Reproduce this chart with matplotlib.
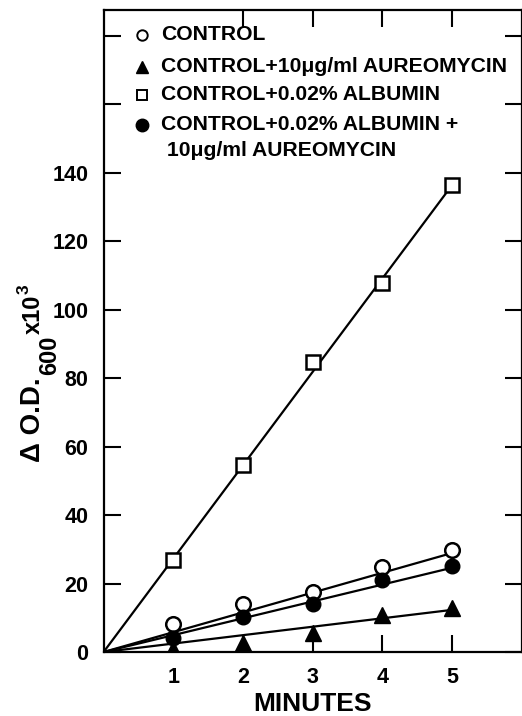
import matplotlib
matplotlib.use("Agg")
import matplotlib.pyplot as plt
from matplotlib.lines import Line2D

plt.rcParams['font.family'] = ['Liberation Sans', 'DejaVu Sans']
plt.rcParams['font.weight'] = 'bold'

# ---- data ----
minutes = [1, 2, 3, 4, 5]
control = [8.2, 14.0, 17.5, 24.8, 29.8]
control_aureo = [1.0, 2.7, 5.5, 10.8, 12.8]
control_albumin = [26.9, 54.6, 84.8, 107.9, 136.3]
control_albumin_aureo = [4.1, 10.2, 14.0, 21.0, 25.1]

fit_x = [0, 5]
fit_control = [0, 28.9]
fit_control_aureo = [0, 12.3]
fit_control_albumin = [0, 136.3]
fit_control_albumin_aureo = [0, 24.6]

xticks = [1, 2, 3, 4, 5]
yticks = [0, 20, 40, 60, 80, 100, 120, 140, 160, 180]
ytick_labels = ['0', '20', '40', '60', '80', '100', '120', '140', '', '']

legend_labels = ['CONTROL',
                 'CONTROL+10\u03bcg/ml AUREOMYCIN',
                 'CONTROL+0.02% ALBUMIN',
                 'CONTROL+0.02% ALBUMIN +\n 10\u03bcg/ml AUREOMYCIN']

# y-axis title pieces: main, subscript, superscript, exponent
ylabel_parts = ['\u0394 O.D.', '600', 'x10', '3']

W, H = 522, 716
fig = plt.figure(figsize=(W / 100, H / 100), dpi=100)
ax = fig.add_axes([103.6 / W, 1 - 652 / H, 418 / W, 642 / H])

lw = 1.6
ax.plot(fit_x, fit_control_albumin, color='black', lw=lw)
ax.plot(fit_x, fit_control, color='black', lw=lw)
ax.plot(fit_x, fit_control_albumin_aureo, color='black', lw=lw)
ax.plot(fit_x, fit_control_aureo, color='black', lw=lw)

ax.plot(minutes, control_albumin, 's', ms=9.5, mfc='white', mec='black', mew=1.8, zorder=5)
ax.plot(minutes, control, 'o', ms=10.5, mfc='white', mec='black', mew=1.8, zorder=5)
ax.plot(minutes, control_albumin_aureo, 'o', ms=10.5, mfc='black', mec='black', zorder=5)
ax.plot(minutes, control_aureo, '^', ms=11.5, mfc='black', mec='black', zorder=5)

ax.set_xlim(0, 6)
ax.set_ylim(0, 187.5)
ax.set_xticks(xticks)
ax.set_xticklabels([str(t) for t in xticks])
ax.set_yticks(yticks)
ax.set_yticklabels(ytick_labels)

ax.tick_params(direction='in', length=12, width=1.5, top=True, right=True,
               labelsize=15.5, pad=11)
# top tick at x=1 is hidden behind the key in the original
ax.xaxis.get_major_ticks()[0].tick2line.set_visible(False)
for s in ax.spines.values():
    s.set_linewidth(1.6)

ax.set_xlabel('MINUTES', fontsize=19, fontweight='bold', labelpad=3)

# y-axis title composed of pieces (rotated, read bottom to top)
renderer = fig.canvas.get_renderer()
def put_piece(txt, start_y_disp, baseline_x_px, size):
    t = fig.text(baseline_x_px / W, start_y_disp / H, txt, rotation=90,
                 rotation_mode='anchor', ha='left', va='baseline',
                 fontsize=size, fontweight='bold')
    bb = t.get_window_extent(renderer)
    return bb.y1

y0 = H - 462
y1 = put_piece(ylabel_parts[0], y0, 40, 20)
y2 = put_piece(ylabel_parts[1], y1 + 2, 56, 17)
y3 = put_piece(ylabel_parts[2], y2 + 2, 40, 17)
put_piece(ylabel_parts[3], y3 + 1, 29, 12.5)

# key drawn manually in axes coordinates
def ax_xy(px, py):
    return ((px - 103.6) / 418, (652 - py) / 642)

rows_y = [35, 67, 95, 125]
line_gap = 25
markers = [dict(marker='o', mfc='white', mec='black', mew=1.4, ms=7.5),
           dict(marker='^', mfc='black', mec='black', ms=8.5),
           dict(marker='s', mfc='white', mec='black', mew=1.4, ms=7),
           dict(marker='o', mfc='black', mec='black', ms=9)]
for lab, ry, mk in zip(legend_labels, rows_y, markers):
    mx, my = ax_xy(142, ry)
    ax.add_line(Line2D([mx], [my], transform=ax.transAxes, ls='none', **mk))
    for k, part in enumerate(lab.split('\n')):
        tx, ty = ax_xy(161, ry + k * line_gap)
        ax.text(tx, ty, part, transform=ax.transAxes, ha='left', va='center',
                fontsize=15.2)

fig.savefig('out.png', dpi=100)
